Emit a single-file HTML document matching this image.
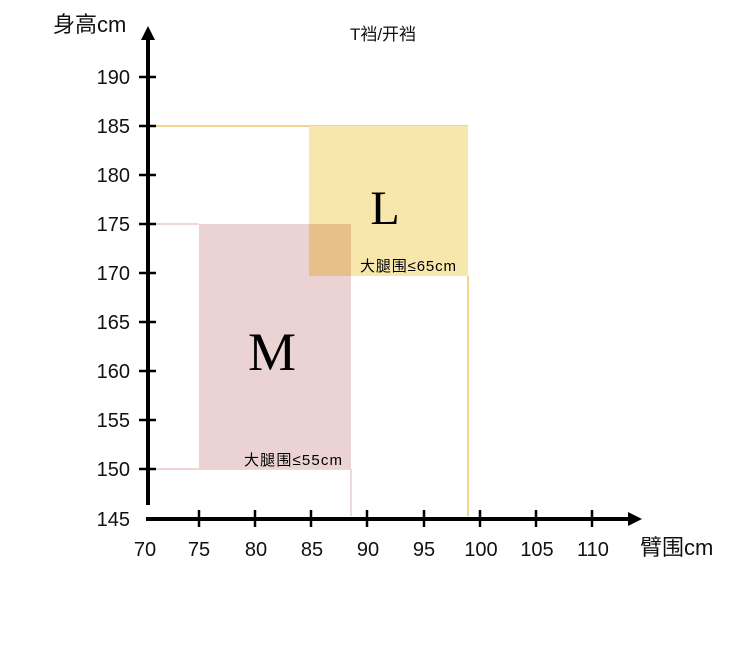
<!DOCTYPE html>
<html><head><meta charset="utf-8"><style>
body{margin:0;background:#fff;}
svg text{font-family:"Liberation Sans","Noto Sans CJK SC",sans-serif;}
</style></head><body>
<svg width="750" height="641" viewBox="0 0 750 641" xmlns="http://www.w3.org/2000/svg">
<rect width="750" height="641" fill="#fff"/>
<line x1="148" y1="126" x2="468" y2="126" stroke="#f3d48f" stroke-width="2"/>
<line x1="148" y1="224" x2="199" y2="224" stroke="#efc9c6" stroke-width="1.5"/>
<line x1="148" y1="469" x2="351" y2="469" stroke="#efc9c6" stroke-width="1.5"/>
<line x1="351" y1="469" x2="351" y2="516" stroke="#e6cfcd" stroke-width="1.5"/>
<line x1="468" y1="276" x2="468" y2="516" stroke="#f3d48f" stroke-width="2"/>
<rect x="309" y="126" width="159" height="150" fill="#f8e7ad"/>
<rect x="199" y="224" width="152" height="245" fill="#ebd3d3"/>
<rect x="309" y="224" width="42" height="52" fill="#e7bf88"/>
<text x="385" y="224" font-size="48" text-anchor="middle" style="font-family:'Liberation Serif',serif">L</text>
<text x="272" y="370" font-size="54" text-anchor="middle" style="font-family:'Liberation Serif',serif">M</text>
<text x="360" y="271" font-size="15" textLength="96">大腿围≤65cm</text>
<text x="244" y="465" font-size="15" textLength="98">大腿围≤55cm</text>
<line x1="148" y1="38" x2="148" y2="505" stroke="#000" stroke-width="4"/>
<polygon points="148,26 141,40 155,40" fill="#000"/>
<line x1="146" y1="519" x2="630" y2="519" stroke="#000" stroke-width="4"/>
<polygon points="642,519 628,512 628,526" fill="#000"/>
<g stroke="#000" stroke-width="2.5">
<line x1="139" y1="77" x2="156" y2="77"/><line x1="139" y1="126" x2="156" y2="126"/>
<line x1="139" y1="175" x2="156" y2="175"/><line x1="139" y1="224" x2="156" y2="224"/>
<line x1="139" y1="273" x2="156" y2="273"/><line x1="139" y1="322" x2="156" y2="322"/>
<line x1="139" y1="371" x2="156" y2="371"/><line x1="139" y1="420" x2="156" y2="420"/>
<line x1="139" y1="469" x2="156" y2="469"/>
<line x1="199" y1="510" x2="199" y2="527"/><line x1="255" y1="510" x2="255" y2="527"/>
<line x1="311" y1="510" x2="311" y2="527"/><line x1="367" y1="510" x2="367" y2="527"/>
<line x1="424" y1="510" x2="424" y2="527"/><line x1="480" y1="510" x2="480" y2="527"/>
<line x1="536" y1="510" x2="536" y2="527"/><line x1="592" y1="510" x2="592" y2="527"/>
</g>
<g font-size="20" text-anchor="end" fill="#111">
<text x="130" y="84">190</text><text x="130" y="133">185</text><text x="130" y="182">180</text>
<text x="130" y="231">175</text><text x="130" y="280">170</text><text x="130" y="329">165</text>
<text x="130" y="378">160</text><text x="130" y="427">155</text><text x="130" y="476">150</text>
<text x="130" y="526">145</text>
</g>
<g font-size="20" text-anchor="middle" fill="#111">
<text x="145" y="556">70</text><text x="199" y="556">75</text><text x="256" y="556">80</text>
<text x="312" y="556">85</text><text x="368" y="556">90</text><text x="424" y="556">95</text>
<text x="481" y="556">100</text><text x="537" y="556">105</text><text x="593" y="556">110</text>
</g>
<text x="53" y="32" font-size="22" fill="#111">身高cm</text>
<text x="640" y="555" font-size="22" fill="#111">臂围cm</text>
<text x="383" y="40" font-size="17" text-anchor="middle" fill="#111">T裆/开裆</text>
</svg>
</body></html>
